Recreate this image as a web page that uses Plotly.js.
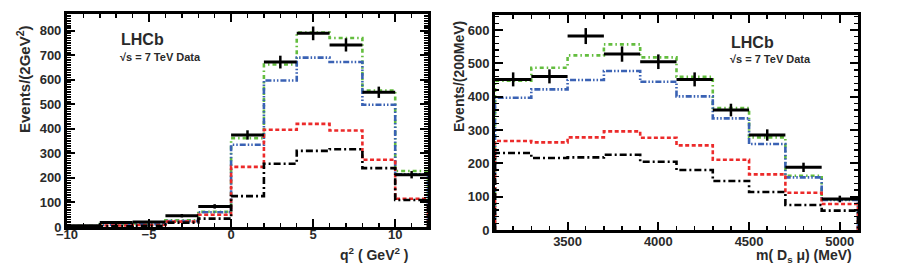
<!DOCTYPE html>
<html>
<head>
<meta charset="utf-8">
<script src="https://cdn.plot.ly/plotly-3.0.1.min.js"></script>
<style>html,body{margin:0;padding:0;background:#fff}#chart{width:900px;height:274px}</style>
</head>
<body>
<div id="chart"></div>
<script>
// ---- Left panel: q^2 (GeV^2), bins of 2 GeV^2 ----
const q2Edges = [-10, -8, -6, -4, -2, 0, 2, 4, 6, 8, 10, 12];
const q2Centers = [-9, -7, -5, -3, -1, 1, 3, 5, 7, 9, 11];
const q2Data = [5, 18, 20, 46, 84, 375, 672, 789, 742, 549, 213];
const q2DataErr = [3, 4, 4, 7, 9, 19, 26, 28, 27, 23, 15];
const q2Green = [4, 12, 14, 27, 62, 362, 662, 792, 770, 556, 228];
const q2Blue = [3, 9, 11, 24, 60, 335, 597, 690, 672, 498, 215];
const q2Red = [2, 6, 8, 22, 50, 245, 396, 420, 393, 274, 115];
const q2Black = [1, 3, 5, 18, 34, 126, 258, 310, 317, 240, 110];

// ---- Right panel: m(Ds mu) (MeV), bins of 200 MeV ----
const mEdges = [3100, 3300, 3500, 3700, 3900, 4100, 4300, 4500, 4700, 4900, 5100];
const mCenters = [3200, 3400, 3600, 3800, 4000, 4200, 4400, 4600, 4800, 5000];
const mData = [452, 461, 582, 528, 505, 452, 360, 285, 188, 93];
const mDataErr = [21, 21, 24, 23, 22, 21, 19, 17, 14, 10];
const mGreen = [448, 487, 524, 557, 518, 460, 366, 278, 163, 92];
const mBlue = [397, 422, 450, 477, 445, 401, 335, 258, 158, 90];
const mRed = [267, 263, 278, 296, 277, 254, 211, 167, 112, 78];
const mBlack = [231, 216, 218, 226, 205, 180, 147, 114, 75, 58];

const GREEN = '#63bd3e', BLUE = '#3a62b4', RED = '#ec2a2a', BLACK = '#000000';

function stepTrace(edges, vals, color, dash, xa, ya) {
  const x = [edges[0]], y = [0];
  for (let i = 0; i < vals.length; i++) { x.push(edges[i]); y.push(vals[i]); }
  x.push(edges[edges.length - 1]); y.push(vals[vals.length - 1]);
  x.push(edges[edges.length - 1]); y.push(0);
  return {x, y, xaxis: xa, yaxis: ya, type: 'scatter', mode: 'lines',
    line: {shape: 'hv', color, dash, width: 2.6}, hoverinfo: 'skip', showlegend: false, cliponaxis: true};
}
function dataTrace(edges, centers, vals, errs, xa, ya) {
  const halfw = centers.map((c, i) => c - edges[i]);
  return {x: centers, y: vals, xaxis: xa, yaxis: ya, type: 'scatter', mode: 'markers',
    marker: {size: 1, color: BLACK},
    error_x: {type: 'data', array: halfw, visible: true, color: BLACK, thickness: 3, width: 0},
    error_y: {type: 'data', array: errs, visible: true, color: BLACK, thickness: 2.5, width: 0},
    showlegend: false, hoverinfo: 'skip', cliponaxis: true};
}

const dGreen = '4px,3px,1.5px,3px';
const dBlue = '6px,2px,1.5px,2px,1.5px,2px';
const dRed = '4px,2.5px';
const dBlack = '7px,3px,2px,3px';

const traces = [
  stepTrace(q2Edges, q2Green, GREEN, dGreen, 'x', 'y'),
  stepTrace(q2Edges, q2Blue, BLUE, dBlue, 'x', 'y'),
  stepTrace(q2Edges, q2Red, RED, dRed, 'x', 'y'),
  stepTrace(q2Edges, q2Black, BLACK, dBlack, 'x', 'y'),
  dataTrace(q2Edges, q2Centers, q2Data, q2DataErr, 'x', 'y'),
  stepTrace(mEdges, mGreen, GREEN, dGreen, 'x2', 'y2'),
  stepTrace(mEdges, mBlue, BLUE, dBlue, 'x2', 'y2'),
  stepTrace(mEdges, mRed, RED, dRed, 'x2', 'y2'),
  stepTrace(mEdges, mBlack, BLACK, dBlack, 'x2', 'y2'),
  dataTrace(mEdges, mCenters, mData, mDataErr, 'x2', 'y2')
];

const FONT = 'Liberation Sans, Arial, sans-serif';
const tickFont = {family: FONT, size: 13, color: '#2a2a2a', weight: 'bold'};
function axis(extra) {
  return Object.assign({
    showline: true, linewidth: 3, linecolor: '#000', mirror: 'allticks',
    ticks: 'inside', ticklen: 8, tickwidth: 2, tickcolor: '#000',
    showgrid: false, zeroline: false, tickfont: tickFont, fixedrange: true
  }, extra);
}

const layout = {
  width: 900, height: 274,
  margin: {l: 0, r: 0, t: 0, b: 0},
  paper_bgcolor: '#fff', plot_bgcolor: '#fff',
  showlegend: false,
  xaxis: axis({domain: [0.0744, 0.4756], range: [-10, 12], dtick: 5, tick0: 0, anchor: 'y',
    ticklabelstandoff: -7,
    minor: {ticks: 'inside', ticklen: 4, tickwidth: 1.5, dtick: 1, tickcolor: '#000'}}),
  yaxis: axis({domain: [0.1715, 0.949], range: [0, 868], dtick: 100, anchor: 'x',
    minor: {ticks: 'inside', ticklen: 4, tickwidth: 1.5, dtick: 10, tickcolor: '#000'}}),
  xaxis2: axis({domain: [0.55, 0.9533], range: [3100, 5100], dtick: 500, tick0: 0, anchor: 'y2',
    ticklabelstandoff: -3,
    minor: {ticks: 'inside', ticklen: 4, tickwidth: 1.5, dtick: 100, tickcolor: '#000'}}),
  yaxis2: axis({domain: [0.1606, 0.945], range: [0, 645], dtick: 100, anchor: 'x2',
    minor: {ticks: 'inside', ticklen: 4, tickwidth: 1.5, dtick: 20, tickcolor: '#000'}}),
  annotations: [
    {text: 'Events/(2GeV<sup>2</sup>)', xref: 'paper', yref: 'paper', x: 24/900, y: 1 - 79/274,
     textangle: -90, showarrow: false, xanchor: 'center', yanchor: 'middle',
     font: {family: FONT, size: 15, color: '#2a2a2a', weight: 'bold'}},
    {text: 'Events/(200MeV)', xref: 'paper', yref: 'paper', x: 459/900, y: 1 - 77/274,
     textangle: -90, showarrow: false, xanchor: 'center', yanchor: 'middle',
     font: {family: FONT, size: 14, color: '#2a2a2a', weight: 'bold'}},
    {text: 'q<sup>2</sup> ( GeV<sup>2</sup> )', xref: 'paper', yref: 'paper', x: 411/900, y: 1 - 254/274,
     showarrow: false, xanchor: 'right', yanchor: 'middle',
     font: {family: FONT, size: 14, color: '#2a2a2a', weight: 'bold'}},
    {text: 'm( D<sub>s</sub> μ) (MeV)', xref: 'paper', yref: 'paper', x: 854/900, y: 1 - 256/274,
     showarrow: false, xanchor: 'right', yanchor: 'middle',
     font: {family: FONT, size: 14, color: '#2a2a2a', weight: 'bold'}},
    {text: 'LHCb', xref: 'paper', yref: 'paper', x: 119/900, y: 1 - 39/274,
     showarrow: false, xanchor: 'left', yanchor: 'middle',
     font: {family: FONT, size: 16, color: '#2a2a2a', weight: 'bold'}},
    {text: '√s = 7 TeV Data', xref: 'paper', yref: 'paper', x: 118/900, y: 1 - 57/274,
     showarrow: false, xanchor: 'left', yanchor: 'middle',
     font: {family: FONT, size: 11, color: '#2a2a2a', weight: 'bold'}},
    {text: 'LHCb', xref: 'paper', yref: 'paper', x: 729/900, y: 1 - 42/274,
     showarrow: false, xanchor: 'left', yanchor: 'middle',
     font: {family: FONT, size: 16, color: '#2a2a2a', weight: 'bold'}},
    {text: '√s = 7 TeV Data', xref: 'paper', yref: 'paper', x: 728/900, y: 1 - 59/274,
     showarrow: false, xanchor: 'left', yanchor: 'middle',
     font: {family: FONT, size: 11, color: '#2a2a2a', weight: 'bold'}}
  ]
};

Plotly.newPlot('chart', traces, layout, {staticPlot: true, displayModeBar: false});
</script>
</body>
</html>
